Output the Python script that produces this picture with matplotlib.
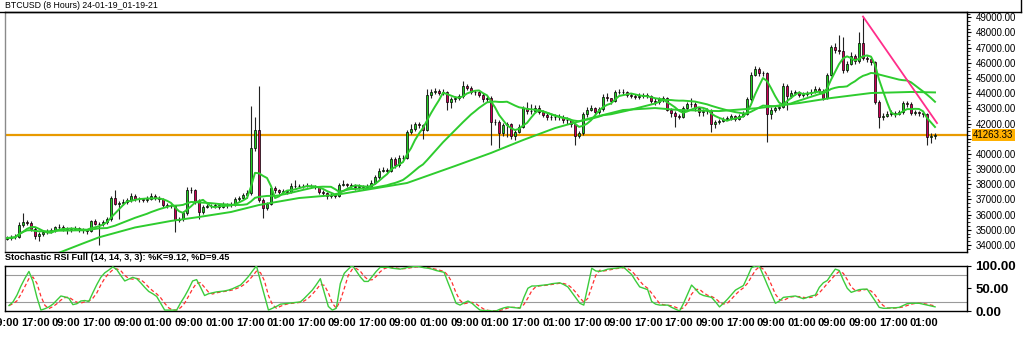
import numpy as np
import pandas as pd
import matplotlib
matplotlib.use('Agg')
import matplotlib.pyplot as plt
from matplotlib.lines import Line2D
from matplotlib.transforms import blended_transform_factory

# ---- data (8h bars, oldest first) ----
title = "BTCUSD (8 Hours) 24-01-19_01-19-21"
stoch_title = "Stochastic RSI Full (14, 14, 3, 3): %K=9.12, %D=9.45"
first_open = 34400

closes = [
    34450, 34500, 34550, 35300, 35500, 35450, 35050, 34600, 34700, 34850,
    34900, 34950, 35150, 35200, 35050, 34950, 35050, 35100, 35000, 34950,
    34900, 35550, 35400, 35350, 35500, 35700, 37100, 36700, 36750, 36850,
    36950, 37250, 37050, 37000, 36950, 37050, 37250, 37100, 37000, 36650,
    36550, 36550, 35650, 35700, 36100, 37650, 37600, 36900, 36200, 36500,
    36550, 36550, 36600, 36500, 36650, 36600, 36650, 37000, 37100, 37300,
    37400, 40400, 41550, 36950, 36450, 36700, 37750, 37600, 37500, 37550,
    37500, 37900, 37850, 37900, 37850, 37900, 37850, 37800, 37500, 37400,
    37200, 37300, 37250, 37950, 38000, 37950, 37900, 37800, 37850, 37800,
    37850, 38100, 38450, 38900, 38950, 38900, 39650, 39250, 39750, 39750,
    41450, 41650, 41950, 41900, 41600, 43850, 44100, 44150, 44000, 44050,
    43400, 43600, 43650, 43800, 44500, 44350, 44100, 44050, 43900, 43600,
    43650, 42100, 42100, 41400, 41900, 41950, 41150, 41450, 41800, 43000,
    42800, 42850, 43000, 42750, 42550, 42400, 42400, 42450, 42400, 42250,
    42200, 41950, 41150, 41350, 42600, 42900, 43050, 42750, 42950, 43750,
    43650, 43500, 44050, 44100, 44050, 43900, 43800, 43750, 43800, 43850,
    43800, 43500, 43400, 43600, 43650, 42900, 42700, 42500, 42450, 43000,
    43300, 43300, 43000, 42750, 42800, 42850, 42000, 42100, 42150, 42300,
    42350, 42500, 42300, 42500, 42650, 43600, 45200, 45600, 45300, 45300,
    42600, 42900, 43050, 43100, 44500, 43800, 44000, 44050, 43900, 43950,
    44000, 44100, 44300, 44150, 43700, 45200, 47050, 46850, 46750, 45550,
    45950, 46450, 46100, 47300, 46350, 46250, 46050, 43450, 42450, 42500,
    42600, 42700, 42650, 42750, 43350, 43300, 42700, 42750, 42700, 42600,
    41100, 41200, 41263.33]

highs = [
    34600, 34650, 34700, 35500, 36100, 35650, 35550, 35150, 34850, 34950,
    35050, 35100, 35250, 35350, 35300, 35150, 35200, 35250, 35200, 35100,
    35050, 35650, 35700, 35500, 35650, 35850, 37250, 37600, 36900, 37000,
    37100, 37400, 37350, 37150, 37100, 37200, 37400, 37350, 37200, 37100,
    36750, 36700, 36650, 35850, 36250, 37800, 37800, 37700, 37000, 36650,
    36700, 36700, 36750, 36700, 36800, 36750, 36850, 37150, 37250, 37450,
    37600, 43150, 42400, 44450, 37100, 36850, 37900, 37850, 37700, 37700,
    37650, 38050, 38300, 38000, 38000, 38050, 38000, 37950, 37900, 37600,
    37500, 37400, 37400, 38100, 38250, 38100, 38050, 38000, 38000, 37950,
    38000, 38250, 38600, 39050, 39150, 39100, 39800, 39800, 39900, 39950,
    41600, 42000, 42100, 42100, 42000, 44300, 44250, 44350, 44250, 44250,
    44150, 43750, 43800, 43950, 44800, 44600, 44450, 44200, 44150, 44000,
    43800, 43800, 42300, 42200, 42050, 42100, 42050, 41600, 41950, 43150,
    43450, 43300, 43250, 43200, 42900, 42700, 42600, 42650, 42600, 42550,
    42400, 42300, 42100, 41500, 42750, 43100, 43200, 43100, 43100, 43950,
    44000, 43700, 44200, 44300, 44250, 44150, 44000, 43950, 44000, 44000,
    44000, 43900, 43650, 43750, 43800, 43750, 43000, 42800, 42600, 43150,
    43450, 43700, 43400, 43100, 42950, 43000, 42950, 42250, 42300, 42450,
    42500, 42650, 42550, 42650, 42800, 43750, 45400, 45800, 45700, 45450,
    45400, 43100, 43200, 43300, 44650, 44600, 44200, 44200, 44150, 44100,
    44150, 44250, 44450, 44400, 44250, 45350, 47200, 47300, 47850, 47700,
    46150, 46700, 46600, 48000, 49050, 46450, 46400, 46150, 43550, 42700,
    42800, 42900, 42850, 42900, 43500, 43500, 43400, 42900, 42850, 42800,
    42700, 41350, 41400]

lows = [
    34300, 34350, 34400, 34450, 35200, 35300, 34900, 34400, 34250, 34600,
    34750, 34800, 34850, 35000, 34900, 34750, 34850, 34950, 34850, 34800,
    34750, 34850, 35300, 34000, 35250, 35400, 35600, 36600, 35700, 36600,
    36700, 36850, 36900, 36850, 36800, 36850, 36950, 36950, 36850, 36500,
    36400, 36400, 34850, 35500, 35600, 36000, 37400, 36700, 35700, 36050,
    36400, 36400, 36450, 36350, 36400, 36450, 36500, 36550, 36900, 37000,
    37100, 37300, 40200, 36800, 35780, 36300, 36600, 37450, 37350, 37400,
    37350, 37400, 37750, 37750, 37750, 37800, 37750, 37700, 37350, 37250,
    37050, 37100, 37100, 37150, 37850, 37800, 37750, 37650, 37700, 37650,
    37700, 37750, 38000, 38350, 38800, 38750, 38800, 39100, 39150, 39600,
    39650, 41300, 41500, 41700, 41000, 41500, 43700, 43950, 43850, 43850,
    42900, 43000, 43450, 43550, 43700, 44200, 43950, 43900, 43750, 43450,
    43450, 40600, 41900, 40400, 41200, 41100, 40950, 40900, 41350, 41700,
    42650, 42600, 42750, 42600, 42400, 42250, 42250, 42250, 42200, 42050,
    42000, 41800, 40600, 41050, 41250, 42450, 42800, 42550, 42650, 42850,
    43500, 43300, 43400, 43950, 43900, 43750, 43650, 43600, 43600, 43650,
    43650, 43350, 43250, 43300, 43450, 42800, 42400, 41770, 42300, 42350,
    42900, 43100, 42850, 42500, 42500, 42650, 41450, 41700, 41950, 42100,
    42200, 42250, 42150, 42200, 42400, 42550, 43500, 45100, 45150, 45100,
    40800, 42300, 42750, 42900, 43000, 42900, 43700, 43850, 43750, 43750,
    43800, 43900, 44000, 44000, 43550, 43600, 45100, 46650, 46550, 45350,
    45400, 45850, 45950, 46000, 46200, 46050, 45850, 43300, 41700, 42250,
    42400, 42500, 42450, 42550, 42650, 43100, 42550, 42550, 42500, 42400,
    40580, 40700, 41000]

# slow moving average, read at a few bars (its start lies below the chart)
slow_bars = [12, 19, 23, 32, 41, 48, 56, 63, 73, 82, 100, 112, 121, 129,
             137, 146, 154, 162, 168, 178, 188, 198, 206, 216, 226, 232]
slow_ma = [33380, 34100, 34500, 35150, 35580, 35840, 36170, 36630, 37090,
           37290, 38080, 39200, 40060, 40910, 41700, 42360, 42890, 43020,
           42890, 42820, 43020, 43350, 43680, 44010, 44080, 44050]

# hand drawn trend line (bar, price)
trend_bars = [214, 232.5]
trend_prices = [49050, 42030]

stoch_k = [
    12, 20, 35, 55, 72, 87, 65, 30, 2, 5,
    9, 15, 24, 33, 31, 28, 14, 16, 22, 23,
    21, 40, 58, 74, 84, 90, 97, 91, 78, 66,
    70, 74, 71, 62, 52, 43, 38, 32, 17, 2,
    2, 2, 2, 18, 32, 48, 66, 69, 52, 34,
    38, 40, 42, 43, 44, 46, 49, 53, 57, 66,
    76, 88, 99, 66, 34, 2, 6, 10, 15, 16,
    17, 18, 19, 20, 28, 37, 46, 58, 71, 40,
    10, 2, 6, 60, 83, 92, 100, 88, 75, 65,
    65, 76, 87, 96, 96, 96, 94, 93, 92, 94,
    96, 97, 98, 97, 95, 94, 92, 89, 87, 85,
    62, 40, 17, 13, 18, 22, 17, 9, 2, 1,
    1, 0, 0, 4, 7, 9, 8, 7, 6, 30,
    50, 55, 55, 56, 57, 58, 60, 61, 62, 58,
    53, 41, 29, 17, 13, 53, 94, 88, 87, 89,
    92, 93, 94, 95, 96, 88, 80, 66, 53, 50,
    47, 21, 15, 13, 13, 13, 8, 4, 0, 17,
    37, 57, 48, 38, 34, 32, 30, 20, 9, 17,
    26, 36, 46, 51, 56, 75, 95, 99, 98, 78,
    57, 37, 17, 22, 30, 31, 32, 33, 30, 27,
    30, 33, 35, 52, 62, 67, 80, 92, 89, 68,
    50, 41, 44, 47, 48, 48, 35, 22, 8, 6,
    6, 7, 7, 8, 12, 16, 17, 17, 17, 15,
    13, 11, 9.12]

time_labels = ["09:00", "17:00", "09:00", "17:00", "09:00", "01:00", "09:00",
               "01:00", "17:00", "01:00", "17:00", "09:00", "17:00", "09:00",
               "01:00", "09:00", "01:00", "17:00", "01:00", "17:00", "09:00",
               "17:00", "17:00", "09:00", "17:00", "09:00", "01:00", "09:00",
               "09:00", "17:00", "01:00"]

price_ticks = list(range(34000, 49001, 1000))

# ---- colours ----
GREEN = '#22cc22'
RED = '#cc0055'
MA_GREEN = '#2ecc2e'
ORANGE = '#e89a00'
PINK = '#ff2d8a'

W, H = 1024, 345


def px_box(x0, y0, x1, y1):
    return [x0 / W, 1 - y1 / H, (x1 - x0) / W, (y1 - y0) / H]


fig = plt.figure(figsize=(W / 100, H / 100), dpi=100)
fig.patch.set_facecolor('white')
ax1 = fig.add_axes(px_box(5, 12, 967, 252))
ax2 = fig.add_axes(px_box(5, 265.5, 967, 311))

bars = np.arange(len(closes))
c = np.array(closes, dtype=float)
o = np.r_[first_open, c[:-1]]
up = c >= o

# candles
ax1.vlines(bars, lows, highs, color='#222222', lw=0.8, zorder=3)
ax1.bar(bars, np.abs(c - o), bottom=np.minimum(o, c), width=0.72,
        color=np.where(up, GREEN, RED), edgecolor='black', lw=0.5, zorder=4)

# moving averages
s = pd.Series(c)
ax1.plot(bars, s.rolling(5, min_periods=1).mean(), color=MA_GREEN, lw=1.4, zorder=5)
ax1.plot(bars, s.rolling(21, min_periods=1).mean(), color=MA_GREEN, lw=1.4, zorder=5)
ax1.plot(slow_bars, slow_ma, color=MA_GREEN, lw=1.4, zorder=5)

# last price line and trend line
ax1.axhline(closes[-1], color=ORANGE, lw=1.6, zorder=2)
ax1.plot(trend_bars, trend_prices, color=PINK, lw=1.3, zorder=6)

ax1.set_xlim(-0.5, 240)
ax1.set_ylim(33533, 49350)
ax1.set_xticks([])
ax1.yaxis.tick_right()
ax1.set_yticks(price_ticks)
# the 41000 label sits under the last-price tag in the reference
ax1.set_yticklabels(['' if v == 41000 else f'{v:.2f}' for v in price_ticks],
                    fontsize=7, family='Liberation Sans')
ax1.set_yticks(np.arange(33750, 49300, 250), minor=True)
ax1.tick_params(axis='y', which='major', length=3, pad=3, width=0.8)
ax1.tick_params(axis='y', which='minor', length=2, width=0.6)
ax1.spines['left'].set_color('#8a8a8a')

tr = blended_transform_factory(ax1.transAxes, ax1.transData)
ax1.text(1.0065, closes[-1], f'{closes[-1]:.2f}', transform=tr, fontsize=7,
         family='Liberation Sans', va='center', ha='left', zorder=10,
         bbox=dict(boxstyle='square,pad=0.12', fc='#ffb000', ec='none'))

# stochastic RSI panel
k = pd.Series(stoch_k, dtype=float)
ax2.axhline(80, color='#9a9a9a', lw=0.8)
ax2.axhline(20, color='#9a9a9a', lw=0.8)
ax2.plot(bars, k, color='#3ccc3c', lw=1.0, zorder=3)
ax2.plot(bars, k.rolling(3, min_periods=1).mean(), color='#ff3030', lw=0.9,
         ls=(0, (3, 2)), zorder=2)
ax2.set_xlim(-0.5, 240)
ax2.set_ylim(0, 100)
ax2.yaxis.tick_right()
ax2.set_yticks([0, 50, 100])
ax2.set_yticklabels(['0.00', '50.00', '100.00'], fontsize=9.5,
                    family='Liberation Sans', fontweight='bold')
ax2.tick_params(axis='y', length=3, pad=3, width=0.8)
tick_pos = -1 + 7.675 * np.arange(len(time_labels))
ax2.set_xticks(tick_pos)
ax2.set_xticklabels(time_labels, fontsize=8, family='Liberation Sans',
                    fontweight='bold')
ax2.tick_params(axis='x', length=0, pad=5)
for sp in ax2.spines.values():
    sp.set_linewidth(1.0)
for sp in ax1.spines.values():
    sp.set_linewidth(1.0)

# header bar
fig.add_artist(Line2D([0, 1021 / W], [1 - 12 / H] * 2, color='black', lw=1.0))
fig.add_artist(Line2D([1021 / W] * 2, [1 - 12 / H, 1.0], color='black', lw=1.0))
fig.text(5 / W, 1 - 6 / H, title, fontsize=6.3, family='Liberation Sans',
         va='center', ha='left')
fig.text(5 / W, 1 - 258 / H, stoch_title, fontsize=6.6, family='Liberation Sans',
         fontweight='bold', va='center', ha='left')

fig.savefig('out.png', dpi=100)
